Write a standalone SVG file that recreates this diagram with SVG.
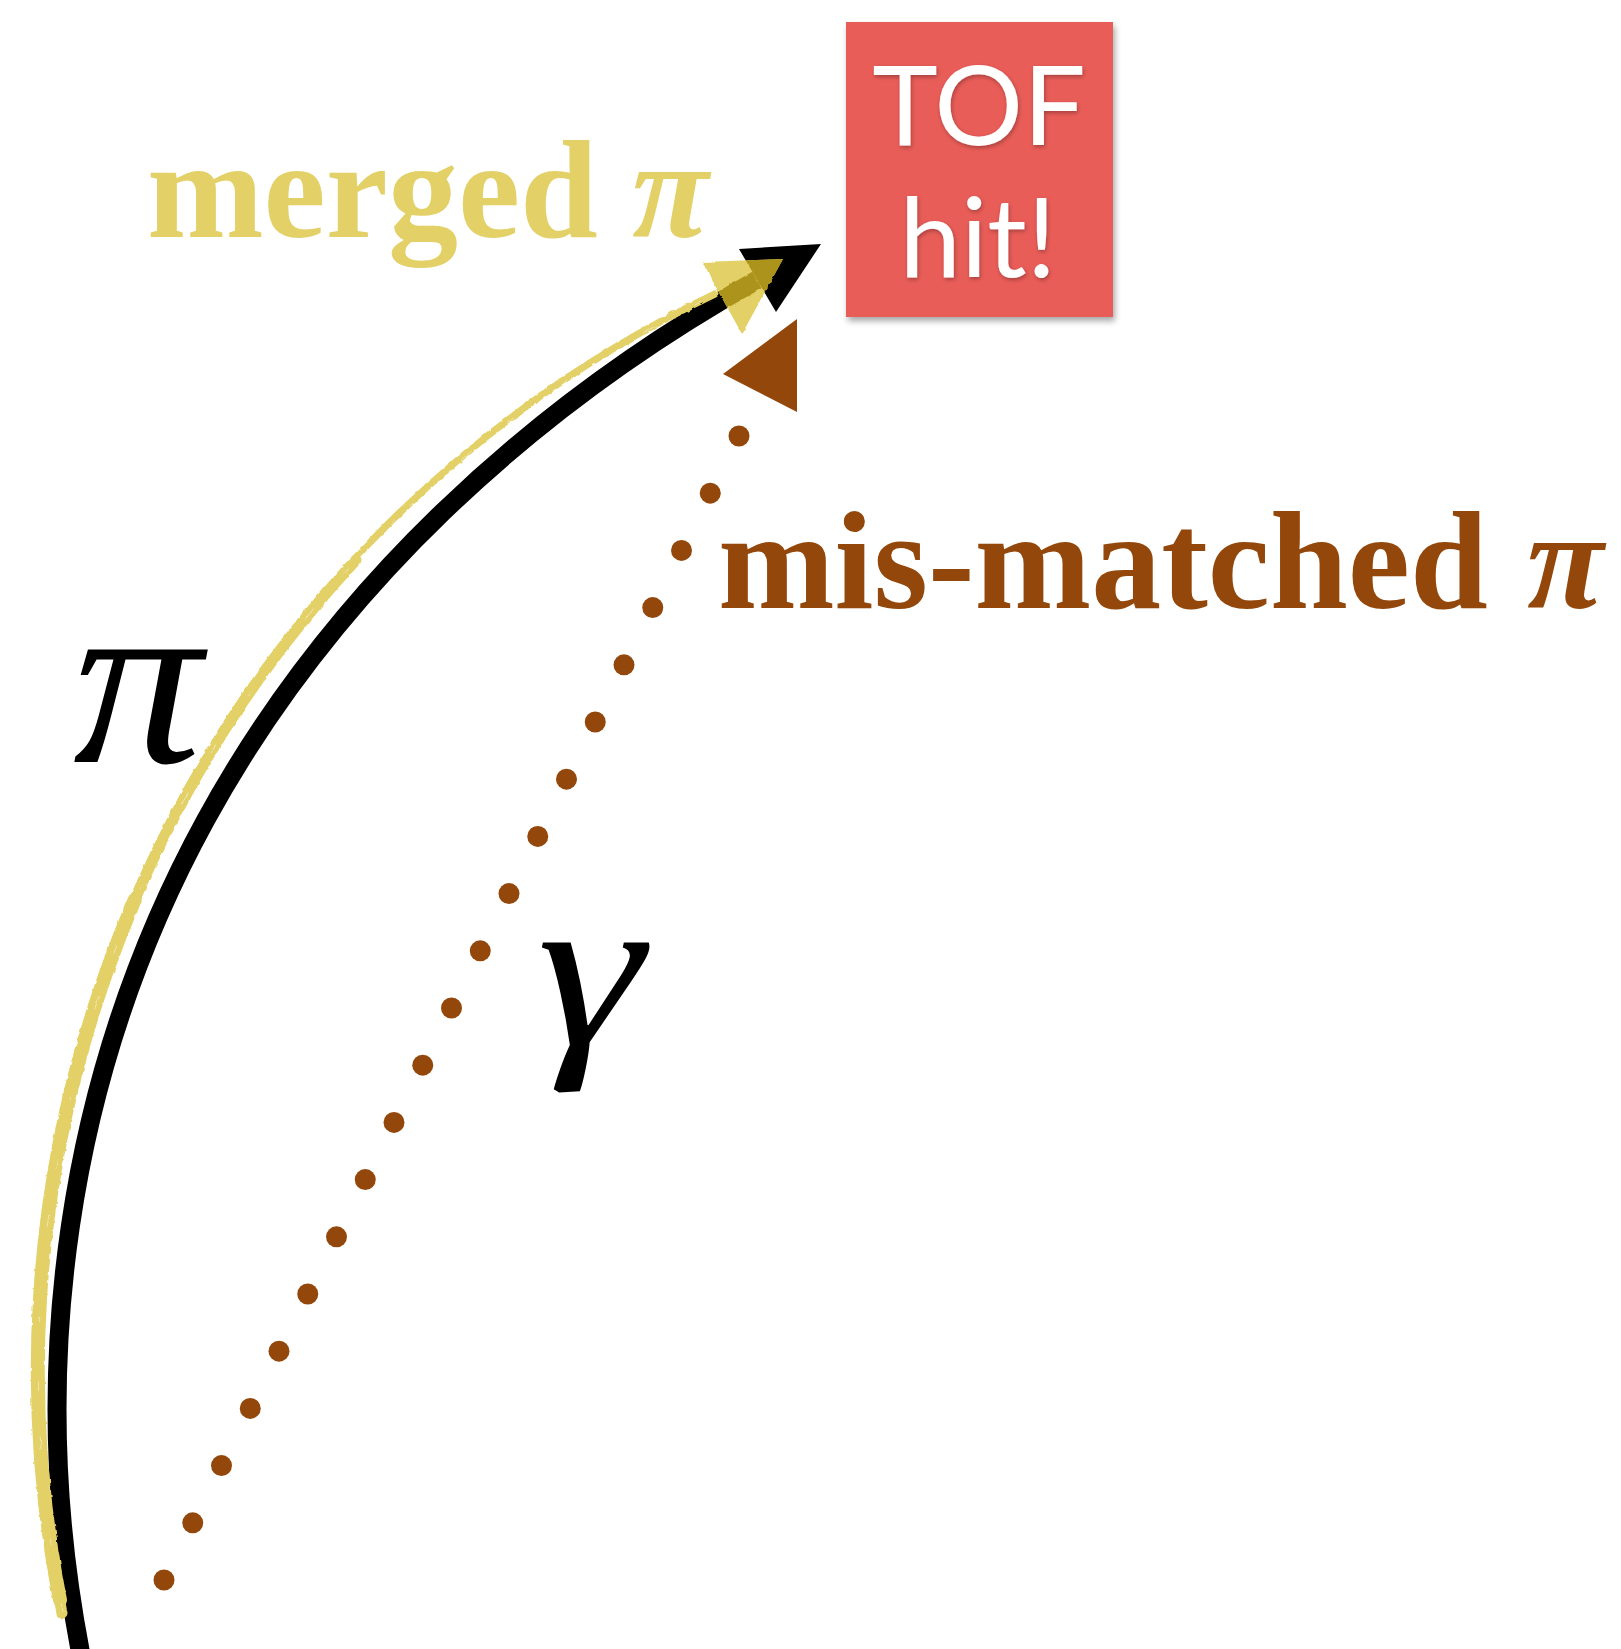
<svg xmlns="http://www.w3.org/2000/svg" width="1621" height="1649" viewBox="0 0 1621 1649">
<style>
.serifb{font-family:"Liberation Serif","Times New Roman",serif;font-weight:bold}
.greek{font-family:"Liberation Serif","Times New Roman",serif;font-style:italic}
.yellow{fill:#E3D066}
.brown{fill:#93470A}
.tof{font-family:Lato,"Open Sans","Liberation Sans",sans-serif;fill:#FFFFFF}
.dot{fill:#93470A}
.ytrack{fill:none;stroke:#E3D066;stroke-linecap:round}
</style>
<defs>
<filter id="boxShadow" x="-10%" y="-10%" width="125%" height="125%">
<feDropShadow dx="2" dy="4" stdDeviation="3" flood-color="#000" flood-opacity="0.35"/>
</filter>
<filter id="txtShadow" x="-10%" y="-10%" width="130%" height="130%">
<feDropShadow dx="1" dy="2" stdDeviation="2" flood-color="#000" flood-opacity="0.3"/>
</filter>
<filter id="rough" x="-5%" y="-5%" width="110%" height="110%">
<feTurbulence type="fractalNoise" baseFrequency="0.15" numOctaves="2" seed="3" result="n"/>
<feDisplacementMap in="SourceGraphic" in2="n" scale="3" xChannelSelector="R" yChannelSelector="G"/>
</filter>
<clipPath id="yTri">
<polygon points="702,262 783,259 742,334"/>
</clipPath>
</defs>

<g id="connectors">
<g id="pion-track">
<path id="blackArc" d="M 81 1655 C 25.6 1370.2 66.5 1074.3 205.7 820 C 331.5 590.2 528.5 408.4 757 280" fill="none" stroke="#000" stroke-width="19"/>
<polygon id="blackHead" points="821,244 739,249 776,312" fill="#000"/>
</g>
<g id="merged-track" filter="url(#rough)">
<path class="ytrack" d="M 62 1613 A 1190 1190 0 0 1 715 294" stroke-width="7"/>
<path class="ytrack" d="M 62 1613 A 1193.6 1193.6 0 0 1 356 560" stroke-width="11"/>
<path class="ytrack" d="M 60 1600 A 1193.6 1193.6 0 0 1 134.6 900" stroke-width="14"/>
<path d="M 62 1613 A 1193.6 1193.6 0 0 1 715 296" fill="none" stroke="#FFFFFF" stroke-opacity="0.45" stroke-width="1" stroke-dasharray="9 60 5 90 14 45" transform="translate(1,-1)"/>
<polygon points="702,262 783,259 742,334" fill="#E3D066"/>
<g clip-path="url(#yTri)">
<path d="M 81 1655 C 25.6 1370.2 66.5 1074.3 205.7 820 C 331.5 590.2 528.5 408.4 757 280" fill="none" stroke="#AC941E" stroke-width="19"/>
<polygon points="821,244 739,249 776,312" fill="#AC941E"/>
</g>
</g>
<g id="photon-track">
<circle class="dot" cx="739" cy="436" r="10.5"/>
<circle class="dot" cx="710.25" cy="493.2" r="10.5"/>
<circle class="dot" cx="681.5" cy="550.4" r="10.5"/>
<circle class="dot" cx="652.75" cy="607.6" r="10.5"/>
<circle class="dot" cx="624" cy="664.8" r="10.5"/>
<circle class="dot" cx="595.25" cy="722" r="10.5"/>
<circle class="dot" cx="566.5" cy="779.2" r="10.5"/>
<circle class="dot" cx="537.75" cy="836.4" r="10.5"/>
<circle class="dot" cx="509" cy="893.6" r="10.5"/>
<circle class="dot" cx="480.25" cy="950.8" r="10.5"/>
<circle class="dot" cx="451.5" cy="1008" r="10.5"/>
<circle class="dot" cx="422.75" cy="1065.2" r="10.5"/>
<circle class="dot" cx="394" cy="1122.4" r="10.5"/>
<circle class="dot" cx="365.25" cy="1179.6" r="10.5"/>
<circle class="dot" cx="336.5" cy="1236.8" r="10.5"/>
<circle class="dot" cx="307.75" cy="1294" r="10.5"/>
<circle class="dot" cx="279" cy="1351.2" r="10.5"/>
<circle class="dot" cx="250.25" cy="1408.4" r="10.5"/>
<circle class="dot" cx="221.5" cy="1465.6" r="10.5"/>
<circle class="dot" cx="192.75" cy="1522.8" r="10.5"/>
<circle class="dot" cx="164" cy="1580" r="10.5"/>
<polygon points="797,319 797,412 723,374" fill="#93470A"/>
</g>
</g>

<g id="tof-hit">
<rect x="846" y="22" width="267" height="295" fill="#E95D58" filter="url(#boxShadow)"/>
<g filter="url(#txtShadow)">
<text class="tof" x="979" y="145" font-size="111" text-anchor="middle">TOF</text>
<text class="tof" x="978" y="277" font-size="110" text-anchor="middle">hit!</text>
</g>
</g>

<g id="label-merged">
<text class="serifb yellow" x="147" y="237" font-size="140">merged</text>
<text class="greek yellow" x="632" y="237" font-size="140" font-weight="bold">π</text>
</g>

<g id="label-mismatched">
<text class="serifb brown" x="718" y="608" font-size="140">mis-matched</text>
<text class="greek brown" x="1527" y="608" font-size="140" font-weight="bold">π</text>
</g>

<g id="label-pi">
<text class="greek" x="0" y="0" transform="translate(73,762) scale(1.05,1)" font-size="245" fill="#000">π</text>
</g>

<g id="label-gamma">
<text class="greek" x="0" y="0" transform="translate(537,1045) scale(1.15,0.95)" font-size="235" fill="#000">γ</text>
</g>
</svg>
